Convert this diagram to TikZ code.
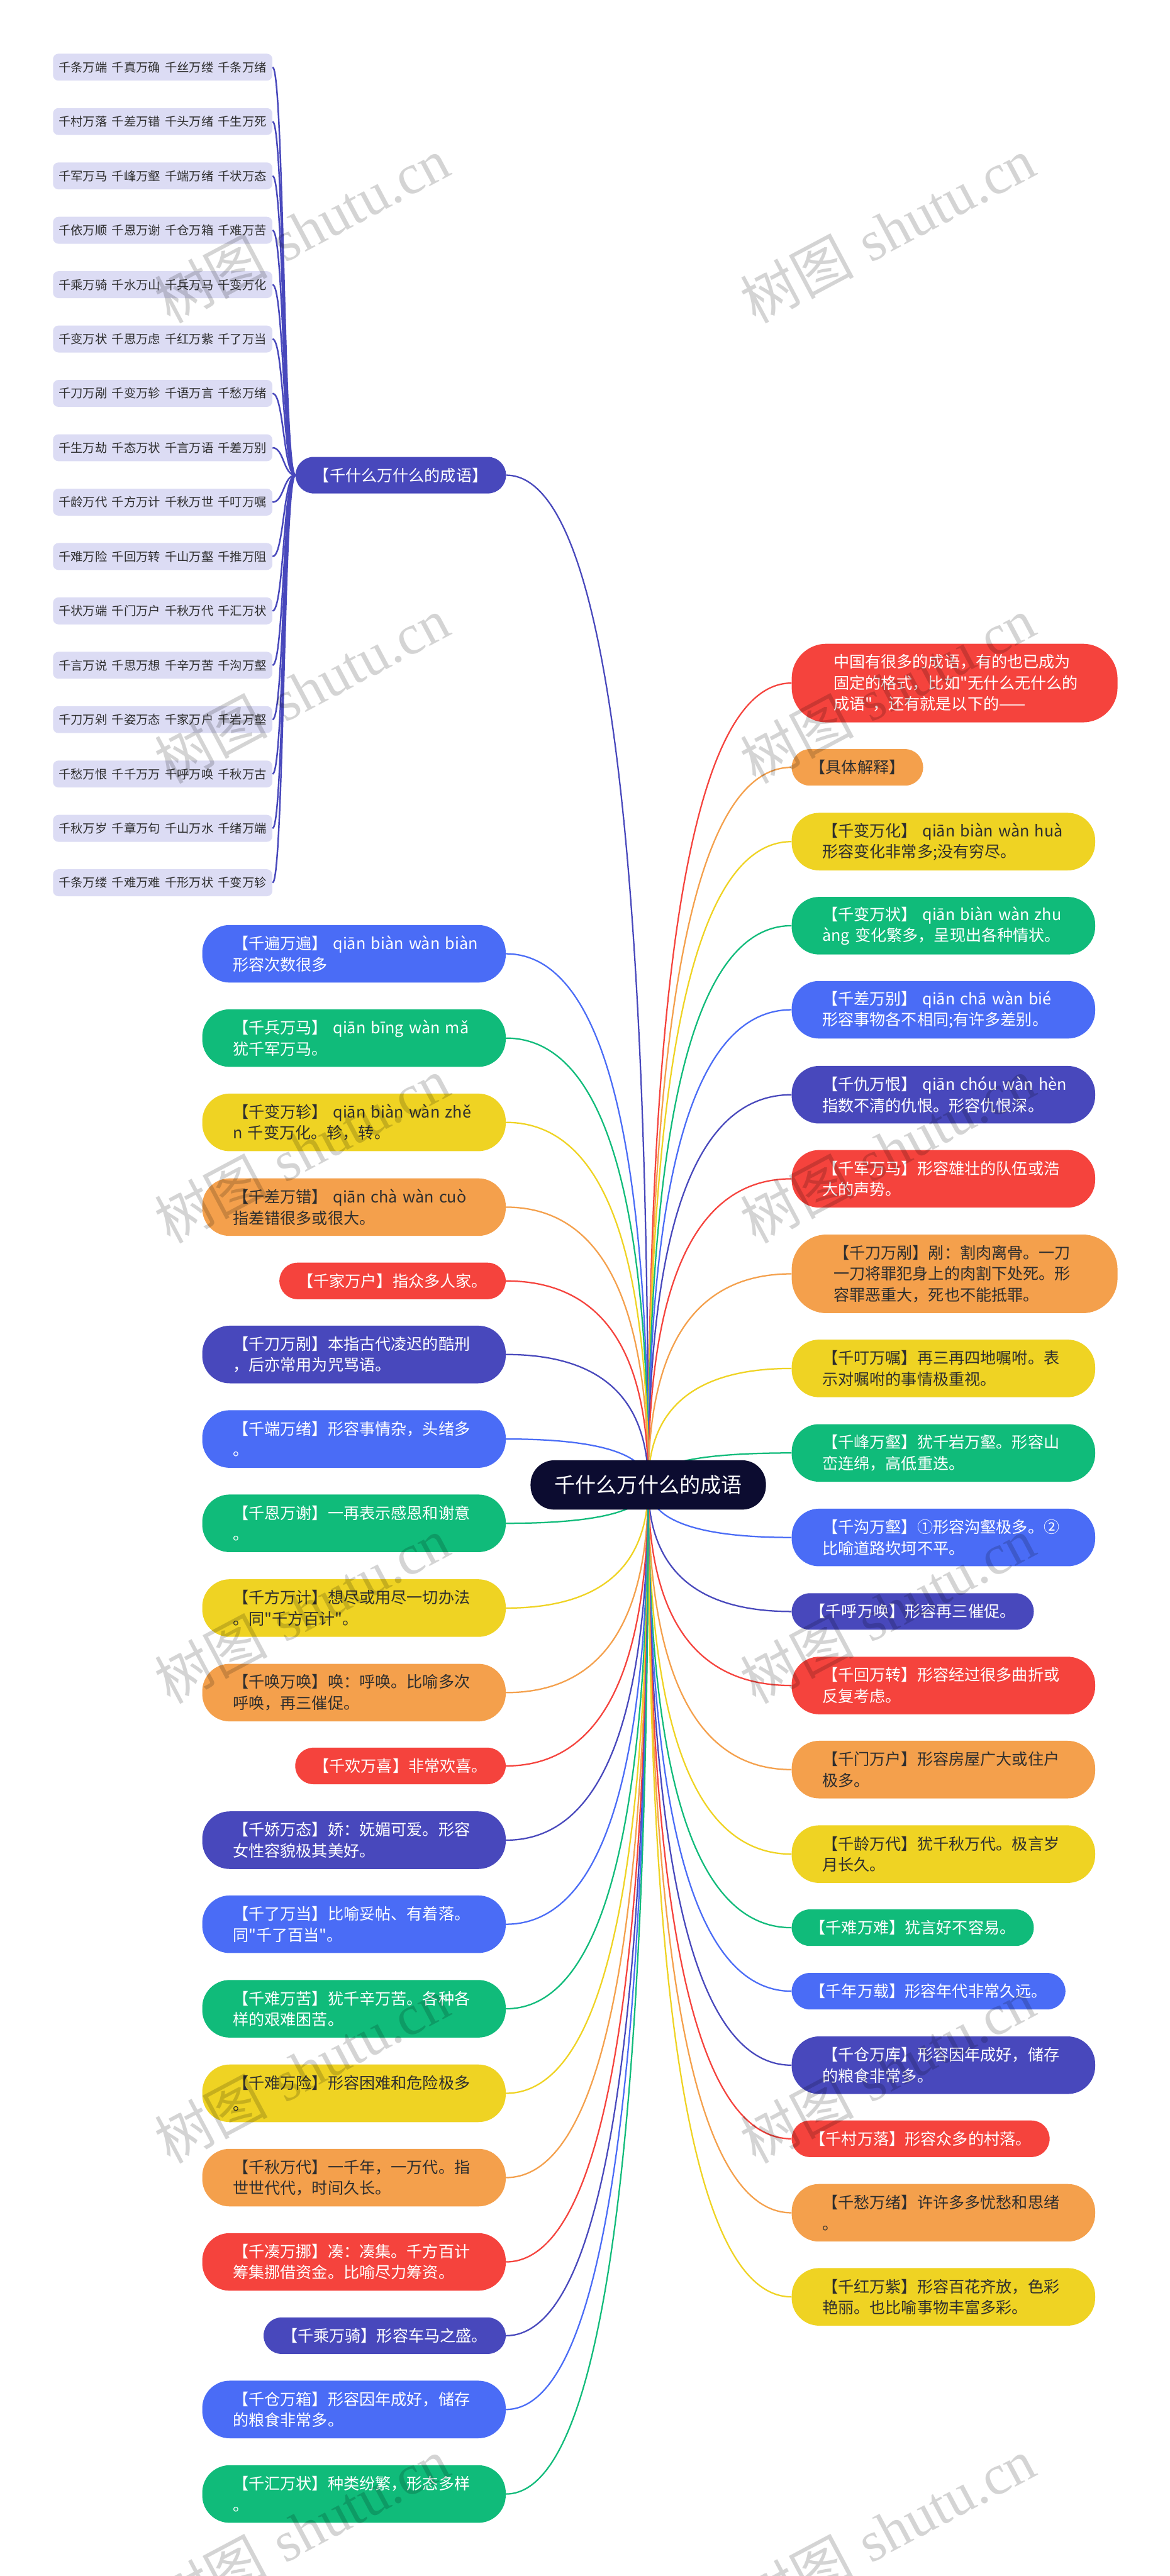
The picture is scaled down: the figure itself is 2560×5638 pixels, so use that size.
\documentclass[tikz,border=0pt]{standalone}
\usepackage{fontspec}
\newfontfamily\cjk{Noto Sans CJK SC}
\newfontfamily\wmser{Liberation Serif}
\usetikzlibrary{calc}
\definecolor{cr}{HTML}{F5433D}
\definecolor{co}{HTML}{F4A04C}
\definecolor{cy}{HTML}{EFD323}
\definecolor{cg}{HTML}{10BB7A}
\definecolor{cb}{HTML}{4A6CF6}
\definecolor{ci}{HTML}{4848BC}
\definecolor{cl}{HTML}{DCDCF4}
\definecolor{croot}{HTML}{0C0C30}
\definecolor{ink}{HTML}{2E2E2E}
\pgfdeclarelayer{bg}\pgfdeclarelayer{fg}\pgfsetlayers{bg,main,fg}
\newcommand\mmlk[3]{%
  \coordinate (mmk) at (root.center|-#2.#3);
  \draw[link,#1] (root.center) .. controls ($(root.center)!0.667!(mmk)$) and ($(#2.#3)!0.667!(mmk)$) .. (#2.#3);}
\newcommand\mmsm[1]{\draw[link,ci,line width=1.7pt] (p.west) .. controls ($(p.west)+(-26,0)$) and ($(#1.east)+(25,0)$) .. (#1.east);}
\newcommand\gq{\hspace{0.37em}}
\begin{document}
\begin{tikzpicture}[x=0.5pt,y=-0.5pt,
  base/.style={font=\cjk\fontsize{17.3}{23}\selectfont, inner ysep=0pt},
  one/.style={base, inner xsep=20pt, minimum height=40pt, rounded corners=19.9pt},
  two/.style={base, text width=265pt, align=left, inner xsep=33.5pt, minimum height=63pt, rounded corners=30pt},
  three/.style={base, text width=265pt, align=left, inner xsep=45.75pt, minimum height=86pt, rounded corners=38pt},
  nR/.style={fill=cr,text=white},
  nO/.style={fill=co,text=ink},
  nY/.style={fill=cy,text=ink},
  nG/.style={fill=cg,text=white},
  nB/.style={fill=cb,text=white},
  nI/.style={fill=ci,text=white},
  link/.style={line width=1.55pt},
  small/.style={fill=cl, text=ink, font=\cjk\fontsize{13.3}{16}\selectfont, minimum width=240pt, minimum height=29.5pt, inner sep=0pt, rounded corners=6pt},
  wmark/.style={rotate=28, text=black, text opacity=0.17, inner sep=0pt, font=\fontsize{62}{62}\selectfont}
]
\useasboundingbox (0,0) rectangle (2560,5638);

% root
\node[fill=croot, text=white, font=\cjk\fontsize{22.75}{28}\selectfont, minimum width=257.5pt, minimum height=54pt, rounded corners=26pt, inner sep=0pt] (root) at (1418.5,3250) {千什么万什么的成语};

% parent of the small list
\node[one,nI] (p) at (877,1040) {【千什么万什么的成语】};

% small nodes
\node[small] (s1) at (356,147) {千条万端\gq 千真万确\gq 千丝万缕\gq 千条万绪};
\node[small] (s2) at (356,266) {千村万落\gq 千差万错\gq 千头万绪\gq 千生万死};
\node[small] (s3) at (356,385) {千军万马\gq 千峰万壑\gq 千端万绪\gq 千状万态};
\node[small] (s4) at (356,504) {千依万顺\gq 千恩万谢\gq 千仓万箱\gq 千难万苦};
\node[small] (s5) at (356,623) {千乘万骑\gq 千水万山\gq 千兵万马\gq 千变万化};
\node[small] (s6) at (356,742) {千变万状\gq 千思万虑\gq 千红万紫\gq 千了万当};
\node[small] (s7) at (356,861) {千刀万剐\gq 千变万轸\gq 千语万言\gq 千愁万绪};
\node[small] (s8) at (356,980) {千生万劫\gq 千态万状\gq 千言万语\gq 千差万别};
\node[small] (s9) at (356,1099) {千龄万代\gq 千方万计\gq 千秋万世\gq 千叮万嘱};
\node[small] (s10) at (356,1218) {千难万险\gq 千回万转\gq 千山万壑\gq 千推万阻};
\node[small] (s11) at (356,1337) {千状万端\gq 千门万户\gq 千秋万代\gq 千汇万状};
\node[small] (s12) at (356,1456) {千言万说\gq 千思万想\gq 千辛万苦\gq 千沟万壑};
\node[small] (s13) at (356,1575) {千刀万剁\gq 千姿万态\gq 千家万户\gq 千岩万壑};
\node[small] (s14) at (356,1694) {千愁万恨\gq 千千万万\gq 千呼万唤\gq 千秋万古};
\node[small] (s15) at (356,1813) {千秋万岁\gq 千章万句\gq 千山万水\gq 千绪万端};
\node[small] (s16) at (356,1932) {千条万缕\gq 千难万难\gq 千形万状\gq 千变万轸};

% right column
\node[three,nR,anchor=west] (r1) at (1732,1495) {中国有很多的成语，有的也已成为\\固定的格式，比如"无什么无什么的\\成语"，还有就是以下的——};
\node[one,nO,anchor=west] (r2) at (1732,1679.5) {【具体解释】};
\node[two,nY,anchor=west] (r3) at (1732,1842) {【千变万化】~qiān~biàn~wàn~huà\\形容变化非常多;没有穷尽。};
\node[two,nG,anchor=west] (r4) at (1732,2026) {【千变万状】~qiān~biàn~wàn~zhu\\àng~变化繁多，呈现出各种情状。};
\node[two,nB,anchor=west] (r5) at (1732,2210) {【千差万别】~qiān~chā~wàn~bié\\形容事物各不相同;有许多差别。};
\node[two,nI,anchor=west] (r6) at (1732,2396) {【千仇万恨】~qiān~chóu~wàn~hèn\\指数不清的仇恨。形容仇恨深。};
\node[two,nR,anchor=west] (r7) at (1732,2580) {【千军万马】形容雄壮的队伍或浩\\大的声势。};
\node[three,nO,anchor=west] (r8) at (1732,2788) {【千刀万剐】剐：割肉离骨。一刀\\一刀将罪犯身上的肉割下处死。形\\容罪恶重大，死也不能抵罪。};
\node[two,nY,anchor=west] (r9) at (1732,2995) {【千叮万嘱】再三再四地嘱咐。表\\示对嘱咐的事情极重视。};
\node[two,nG,anchor=west] (r10) at (1732,3180) {【千峰万壑】犹千岩万壑。形容山\\峦连绵，高低重迭。};
\node[two,nB,anchor=west] (r11) at (1732,3365) {【千沟万壑】①形容沟壑极多。②\\比喻道路坎坷不平。};
\node[one,nI,anchor=west] (r12) at (1732,3527) {【千呼万唤】形容再三催促。};
\node[two,nR,anchor=west] (r13) at (1732,3689) {【千回万转】形容经过很多曲折或\\反复考虑。};
\node[two,nO,anchor=west] (r14) at (1732,3873) {【千门万户】形容房屋广大或住户\\极多。};
\node[two,nY,anchor=west] (r15) at (1732,4058) {【千龄万代】犹千秋万代。极言岁\\月长久。};
\node[one,nG,anchor=west] (r16) at (1732,4219) {【千难万难】犹言好不容易。};
\node[one,nB,anchor=west] (r17) at (1732,4358) {【千年万载】形容年代非常久远。};
\node[two,nI,anchor=west] (r18) at (1732,4520) {【千仓万库】形容因年成好，储存\\的粮食非常多。};
\node[one,nR,anchor=west] (r19) at (1732,4681) {【千村万落】形容众多的村落。};
\node[two,nO,anchor=west] (r20) at (1732,4843) {【千愁万绪】许许多多忧愁和思绪\\。};
\node[two,nY,anchor=west] (r21) at (1732,5027) {【千红万紫】形容百花齐放，色彩\\艳丽。也比喻事物丰富多彩。};

% left column
\node[two,nB,anchor=east] (l1) at (1107,2087.5) {【千遍万遍】~qiān~biàn~wàn~biàn\\形容次数很多};
\node[two,nG,anchor=east] (l2) at (1107,2272) {【千兵万马】~qiān~bīng~wàn~mǎ\\犹千军万马。};
\node[two,nY,anchor=east] (l3) at (1107,2456.5) {【千变万轸】~qiān~biàn~wàn~zhě\\n~千变万化。轸，转。};
\node[two,nO,anchor=east] (l4) at (1107,2642) {【千差万错】~qiān~chà~wàn~cuò\\指差错很多或很大。};
\node[one,nR,anchor=east] (l5) at (1107,2803.5) {【千家万户】指众多人家。};
\node[two,nI,anchor=east] (l6) at (1107,2964.5) {【千刀万剐】本指古代凌迟的酷刑\\，后亦常用为咒骂语。};
\node[two,nB,anchor=east] (l7) at (1107,3149.5) {【千端万绪】形容事情杂，头绪多\\。};
\node[two,nG,anchor=east] (l8) at (1107,3334) {【千恩万谢】一再表示感恩和谢意\\。};
\node[two,nY,anchor=east] (l9) at (1107,3519.5) {【千方万计】想尽或用尽一切办法\\。同"千方百计"。};
\node[two,nO,anchor=east] (l10) at (1107,3704.5) {【千唤万唤】唤：呼唤。比喻多次\\呼唤，再三催促。};
\node[one,nR,anchor=east] (l11) at (1107,3865) {【千欢万喜】非常欢喜。};
\node[two,nI,anchor=east] (l12) at (1107,4027.5) {【千娇万态】娇：妩媚可爱。形容\\女性容貌极其美好。};
\node[two,nB,anchor=east] (l13) at (1107,4211.5) {【千了万当】比喻妥帖、有着落。\\同"千了百当"。};
\node[two,nG,anchor=east] (l14) at (1107,4396.5) {【千难万苦】犹千辛万苦。各种各\\样的艰难困苦。};
\node[two,nY,anchor=east] (l15) at (1107,4581.5) {【千难万险】形容困难和危险极多\\。};
\node[two,nO,anchor=east] (l16) at (1107,4766) {【千秋万代】一千年，一万代。指\\世世代代，时间久长。};
\node[two,nR,anchor=east] (l17) at (1107,4950.5) {【千凑万挪】凑：凑集。千方百计\\筹集挪借资金。比喻尽力筹资。};
\node[one,nI,anchor=east] (l18) at (1107,5112) {【千乘万骑】形容车马之盛。};
\node[two,nB,anchor=east] (l19) at (1107,5273.5) {【千仓万箱】形容因年成好，储存\\的粮食非常多。};
\node[two,nG,anchor=east] (l20) at (1107,5458.5) {【千汇万状】种类纷繁，形态多样\\。};

\begin{pgfonlayer}{bg}
\fill[white] (0,0) rectangle (2560,5638);
\mmlk{ci}{p}{east}
\foreach \i in {1,...,16}{\mmsm{s\i}}
\mmlk{cr}{r1}{west}\mmlk{co}{r2}{west}\mmlk{cy}{r3}{west}\mmlk{cg}{r4}{west}
\mmlk{cb}{r5}{west}\mmlk{ci}{r6}{west}\mmlk{cr}{r7}{west}\mmlk{co}{r8}{west}
\mmlk{cy}{r9}{west}\mmlk{cg}{r10}{west}\mmlk{cb}{r11}{west}\mmlk{ci}{r12}{west}
\mmlk{cr}{r13}{west}\mmlk{co}{r14}{west}\mmlk{cy}{r15}{west}\mmlk{cg}{r16}{west}
\mmlk{cb}{r17}{west}\mmlk{ci}{r18}{west}\mmlk{cr}{r19}{west}\mmlk{co}{r20}{west}
\mmlk{cy}{r21}{west}
\mmlk{cb}{l1}{east}\mmlk{cg}{l2}{east}\mmlk{cy}{l3}{east}\mmlk{co}{l4}{east}
\mmlk{cr}{l5}{east}\mmlk{ci}{l6}{east}\mmlk{cb}{l7}{east}\mmlk{cg}{l8}{east}
\mmlk{cy}{l9}{east}\mmlk{co}{l10}{east}\mmlk{cr}{l11}{east}\mmlk{ci}{l12}{east}
\mmlk{cb}{l13}{east}\mmlk{cg}{l14}{east}\mmlk{cy}{l15}{east}\mmlk{co}{l16}{east}
\mmlk{cr}{l17}{east}\mmlk{ci}{l18}{east}\mmlk{cb}{l19}{east}\mmlk{cg}{l20}{east}
\end{pgfonlayer}

\begin{pgfonlayer}{fg}
\foreach \k in {0,...,5}{
  \node[wmark] (wl\k) at (660,{503+1007*\k}) {{\cjk 树图}~{\wmser shutu.cn}};
  \node[wmark] (wr\k) at (1942,{503+1007*\k}) {{\cjk 树图}~{\wmser shutu.cn}};
}
\end{pgfonlayer}
\end{tikzpicture}
\end{document}
